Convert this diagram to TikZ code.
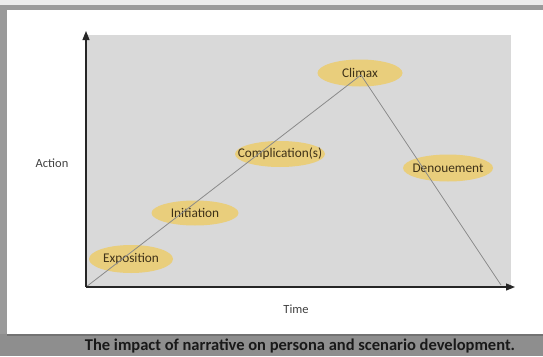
\documentclass[tikz,border=0pt]{standalone}
\usepackage{fontspec}
\setmainfont{Carlito}
\usetikzlibrary{shapes.geometric,arrows.meta}
\definecolor{plotgray}{HTML}{D9D9D9}
\definecolor{ellfill}{HTML}{E9CE7C}
\definecolor{ink}{HTML}{3E3118}
\definecolor{linegray}{HTML}{8A8A8A}
\definecolor{framegray}{HTML}{9A9A9A}
\definecolor{capgray}{HTML}{8E8E8E}
\tikzset{
  stage/.style={ellipse, fill=ellfill, inner sep=0pt,
    label={[text=ink, font=\fontsize{13.3}{15}\selectfont]center:#1}},
  axislabel/.style={text=black!75, font=\fontsize{12.5}{14}\selectfont},
  axisline/.style={line width=1.1pt, black!85, -{Triangle[length=9pt,width=7pt]}},
  arc/.style={linegray, line width=0.8pt}
}
\begin{document}
\begin{tikzpicture}[x=1pt,y=-1pt]
\useasboundingbox (0,0) rectangle (543,356);
% backgrounds
\fill[framegray] (0,0) rectangle (543,356);
\fill[black!8] (0,0) rectangle (543,5);
\fill[capgray] (0,334) rectangle (543,356);
\fill[black!55] (7,333) rectangle (543,336);
\fill[white] (7,10) rectangle (543,334);
% plot area
\fill[plotgray] (86,35) rectangle (511,287);
% coordinates
\coordinate (o) at (86,287);
\coordinate (ytop) at (86,31);
\coordinate (xend) at (515,287);
\coordinate (peak) at (361,75);
\coordinate (fin) at (501,285);
% stages
\node[stage={Climax}, minimum width=85pt, minimum height=27pt] (climax) at (360,73) {};
\node[stage={Complication(s)}, minimum width=90pt, minimum height=26pt] (comp) at (280,154) {};
\node[stage={Denouement}, minimum width=90pt, minimum height=27pt] (deno) at (448,168) {};
\node[stage={Initiation}, minimum width=87pt, minimum height=25pt] (init) at (195,213) {};
\node[stage={Exposition}, minimum width=84pt, minimum height=28pt] (expo) at (131,259) {};
% story line over ellipses
\draw[arc] (o) -- (peak) -- (fin);
% axes
\draw[axisline] (o) -- (ytop);
\draw[axisline] (o) -- (xend);
% labels
\node[axislabel] (action) at (52,163) {Action};
\node[axislabel] (time) at (296,309) {Time};
\node[font=\bfseries\fontsize{16.5}{18}\selectfont, text=black!90] (cap) at (300,346) {The impact of narrative on persona and scenario development.};
\end{tikzpicture}
\end{document}
